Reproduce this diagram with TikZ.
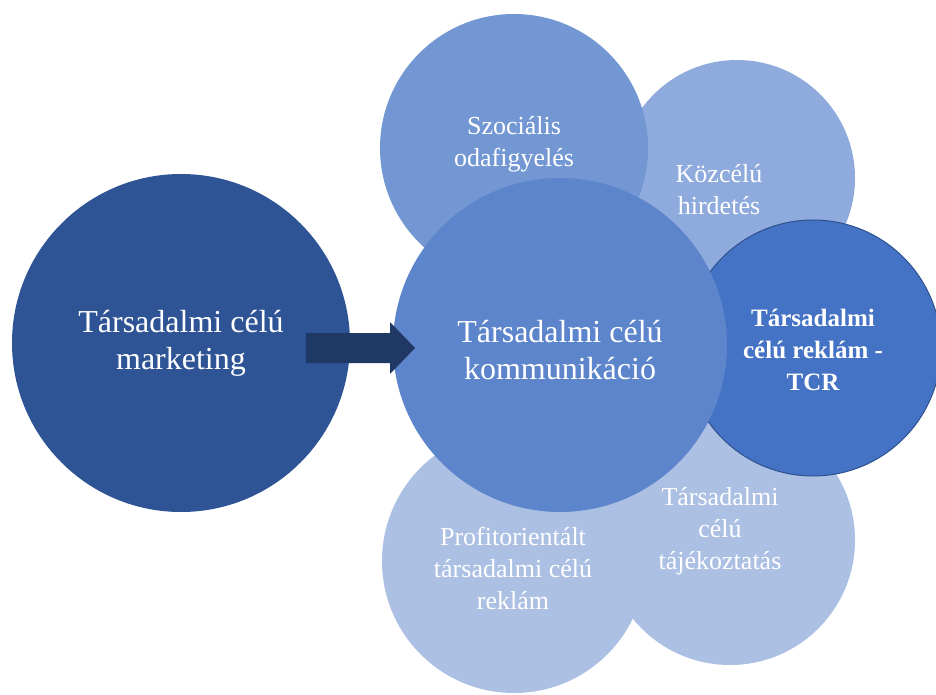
\documentclass[tikz,border=0pt]{standalone}
\usepackage{fontspec}
\setmainfont{Liberation Serif}
\definecolor{navy}{RGB}{46,84,150}
\definecolor{arrowc}{RGB}{31,56,100}
\definecolor{mainc}{RGB}{93,133,203}
\definecolor{szocc}{RGB}{114,151,211}
\definecolor{kozc}{RGB}{143,170,220}
\definecolor{tcrc}{RGB}{68,114,196}
\definecolor{tcrline}{RGB}{47,82,143}
\definecolor{lightc}{RGB}{172,192,228}
\tikzset{
  bubble/.style={circle, inner sep=0pt, draw=none},
  bigtext/.style={text=white, align=center, font=\fontsize{32}{37}\selectfont},
  smalltext/.style={text=white, align=center, font=\fontsize{26}{32}\selectfont},
  boldtext/.style={text=white, align=center, font=\fontsize{25}{32}\selectfont\bfseries},
}
\begin{document}
\begin{tikzpicture}[x=1pt,y=-1pt]
  \useasboundingbox (0,0) rectangle (936,695);
  \fill[white] (0,0) rectangle (936,695);
  \clip (0,0) rectangle (936,695);

  % source circle
  \node[bubble, fill=navy, minimum size=338pt] (mkt) at (181,343) {};
  \node[bigtext] (mkttext) at (mkt.center) {Társadalmi célú\\marketing};

  % surrounding circles, back to front
  \node[bubble, fill=kozc, minimum size=236pt] (koz) at (737,178) {};
  \node[bubble, fill=szocc, minimum size=268pt] (szoc) at (514,148) {};
  \node[bubble, fill=lightc, minimum size=250pt] (taj) at (730,540) {};
  \node[bubble, fill=lightc, minimum size=264pt] (prof) at (514,561) {};
  \node[bubble, fill=tcrc, draw=tcrline, line width=1pt, minimum size=256pt] (tcr) at (813,348) {};
  \node[bubble, fill=mainc, minimum size=334pt] (komm) at (560,345) {};

  % labels
  \node[smalltext] (koztext) at ([shift={(-18,12)}]koz.center) {Közcélú\\hirdetés};
  \node[smalltext] (szoctext) at ([shift={(0,-4)}]szoc.center) {Szociális\\odafigyelés};
  \node[smalltext] (tajtext) at ([shift={(-10,-9)}]taj.center) {Társadalmi\\célú\\tájékoztatás};
  \node[smalltext] (proftext) at ([shift={(-1,7)}]prof.center) {Profitorientált\\társadalmi célú\\reklám};
  \node[boldtext] (tcrtext) at ([shift={(0,2)}]tcr.center) {Társadalmi\\célú reklám -\\TCR};
  \node[bigtext] (kommtext) at ([shift={(0,5)}]komm.center) {Társadalmi célú\\kommunikáció};

  % block arrow from marketing to communication
  \coordinate (atail) at (306,348);
  \coordinate (atip) at (415,348);
  \fill[arrowc] ([shift={(0,-15)}]atail) -- ++(84,0) -- ++(0,-11) -- (atip)
     -- ([shift={(84,26)}]atail) -- ++(0,-11) -- ([shift={(0,15)}]atail) -- cycle;
\end{tikzpicture}
\end{document}
